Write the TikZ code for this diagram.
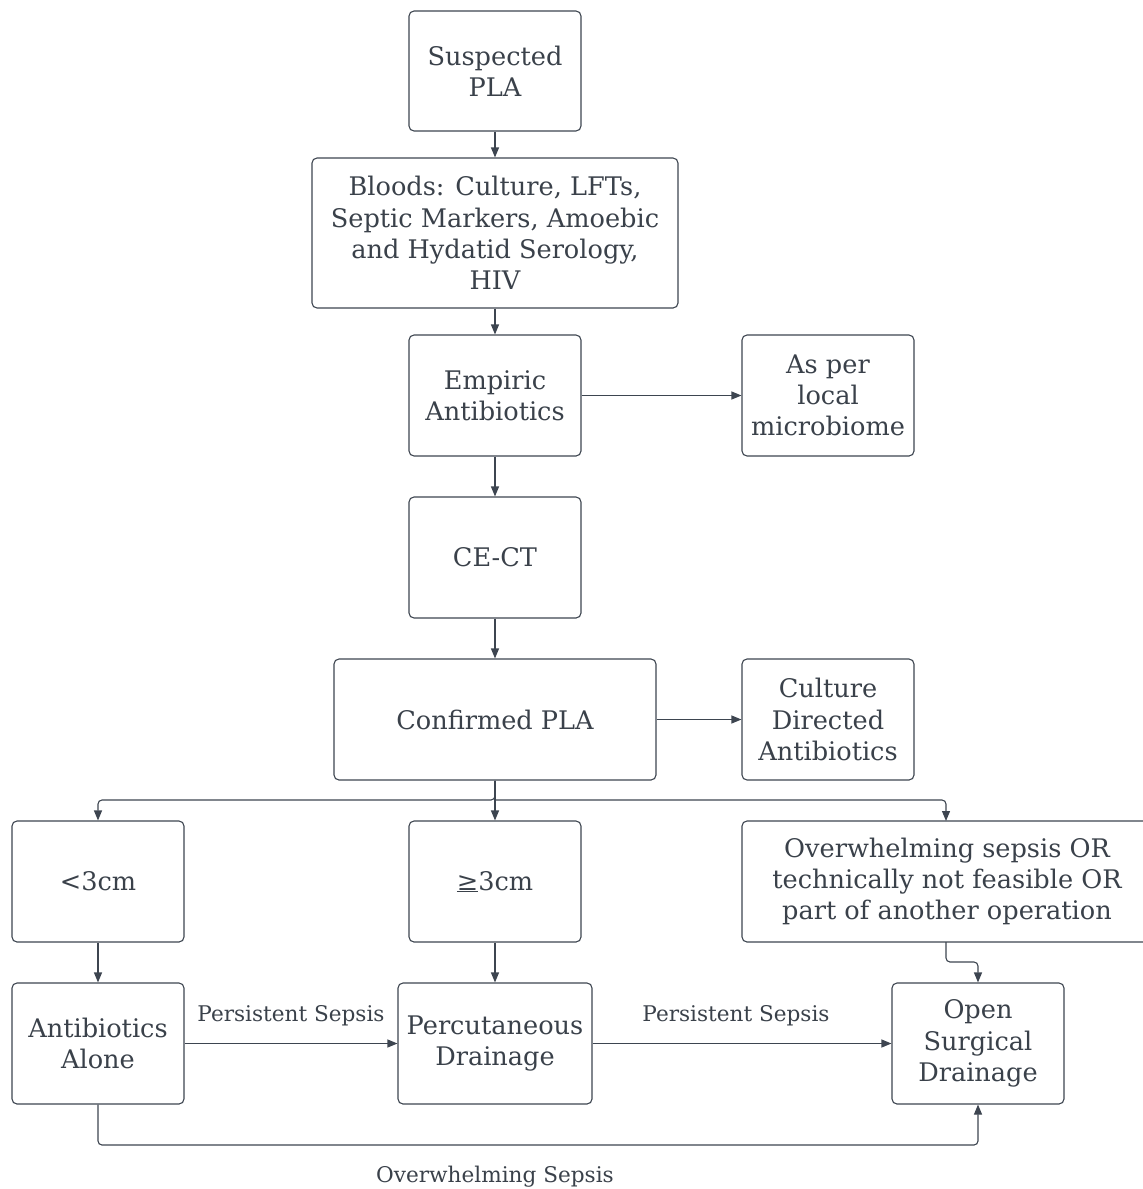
\documentclass[tikz,border=0pt]{standalone}
\usepackage{fontspec}
\setmainfont{DejaVu Serif}
\usetikzlibrary{arrows.meta,positioning}
\definecolor{txt}{HTML}{3A414A}
\definecolor{ln}{HTML}{3D4550}
\tikzset{
  x=1pt, y=-1pt,
  box/.style={draw=ln, line width=1.1pt, rounded corners=5pt, align=center, text=txt,
    font=\fontsize{25.6}{31.2}\selectfont, inner sep=0pt},
  conn/.style={draw=ln, line width=1.1pt, -{Triangle[length=10pt,width=8pt]}, rounded corners=4pt},
  lbl/.style={text=txt, font=\fontsize{21.6}{26}\selectfont, inner sep=0pt},
}
\begin{document}
\begin{tikzpicture}
\useasboundingbox (0,0) rectangle (1143,1189);
\node[box, minimum width=172pt, minimum height=120pt] (a) at (495,71) {Suspected\\PLA};
\node[box, minimum width=366pt, minimum height=150pt] (b) at (495,233) {Bloods: Culture, LFTs,\\Septic Markers, Amoebic\\and Hydatid Serology,\\HIV};
\node[box, minimum width=172pt, minimum height=121pt] (c) at (495,395.5) {Empiric\\Antibiotics};
\node[box, minimum width=172pt, minimum height=121pt] (d) at (828,395.5) {As per\\local\\microbiome};
\node[box, minimum width=172pt, minimum height=121pt] (e) at (495,557.5) {CE-CT};
\node[box, minimum width=322pt, minimum height=121pt] (f) at (495,719.5) {Confirmed PLA};
\node[box, minimum width=172pt, minimum height=121pt] (g) at (828,719.5) {Culture\\Directed\\Antibiotics};
\node[box, minimum width=172pt, minimum height=121pt] (h) at (98,881.5) {<3cm};
\node[box, minimum width=172pt, minimum height=121pt] (i) at (495,881.5) {\underline{≥}3cm};
\node[box, minimum width=410pt, minimum height=121pt] (j) at (947,881.5) {Overwhelming sepsis OR\\technically not feasible OR\\part of another operation};
\node[box, minimum width=172pt, minimum height=121pt] (k) at (98,1043.5) {Antibiotics\\Alone};
\node[box, minimum width=194pt, minimum height=121pt] (l) at (495,1043.5) {Percutaneous\\Drainage};
\node[box, minimum width=172pt, minimum height=121pt] (m) at (978,1043.5) {Open\\Surgical\\Drainage};

\draw[conn] (a) -- (b);
\draw[conn] (b) -- (c);
\draw[conn] (c) -- (e);
\draw[conn] (c) -- (d);
\draw[conn] (e) -- (f);
\draw[conn] (f) -- (g);
\coordinate (fs) at (495,800);
\draw[conn] (f.south) -- (fs) -| (h.north);
\draw[conn] (f.south) -- (i.north);
\draw[conn] (fs) -| (946,821);
\draw[conn] (h) -- (k);
\draw[conn] (i) -- (l);
\draw[conn] (946,942) -- (946,962) -| (m.north);
\draw[conn] (k) -- node[lbl, above=17pt] {Persistent Sepsis} (l);
\draw[conn] (l) -- node[lbl, above=17pt, xshift=-6pt] {Persistent Sepsis} (m);
\draw[conn] (k.south) -- (98,1145) -| (m.south);
\node[lbl] (os) at (495,1177) {Overwhelming Sepsis};
\end{tikzpicture}
\end{document}
